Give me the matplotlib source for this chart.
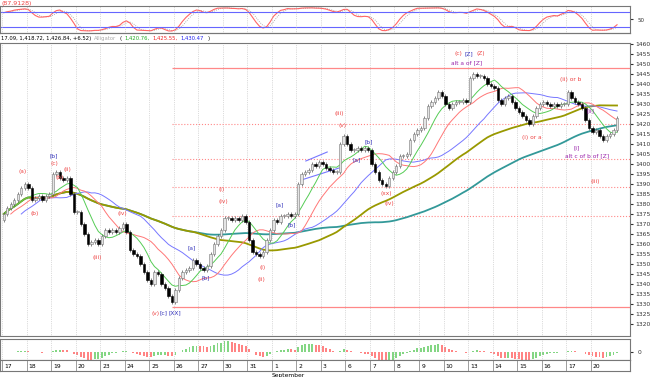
import matplotlib
matplotlib.use("Agg")
import matplotlib.pyplot as plt
import numpy as np
import pandas as pd

W, H = 650, 377

# --- data -------------------------------------------------------------
day_labels = ["17", "18", "19", "20", "23", "24", "25", "26", "27", "30", "31",
              "1", "2", "3", "6", "7", "8", "9", "10", "13", "14", "15", "16", "17", "20"]
bars_per_day = 7

close = [
    1375, 1378, 1380, 1382, 1385, 1388, 1390,   # 17
    1388, 1382, 1383, 1384, 1382, 1384, 1385,   # 18
    1395, 1396, 1393, 1392, 1393, 1385, 1376,   # 19
    1376, 1370, 1365, 1360, 1361, 1362, 1360,   # 20
    1364, 1367, 1366, 1367, 1366, 1368, 1370,   # 23
    1366, 1357, 1355, 1354, 1350, 1346, 1342,   # 24
    1340, 1346, 1345, 1340, 1338, 1334, 1331,   # 25
    1337, 1343, 1346, 1347, 1348, 1352, 1350,   # 26
    1348, 1347, 1349, 1355, 1360, 1364, 1367,   # 27
    1373, 1373, 1372, 1373, 1372, 1374, 1371,   # 30
    1362, 1356, 1355, 1354, 1356, 1362, 1367,   # 31
    1372, 1371, 1374, 1374, 1375, 1374, 1375,   # 1
    1390, 1395, 1396, 1397, 1400, 1399, 1401,   # 2
    1400, 1398, 1397, 1396, 1396, 1410, 1414,   # 3
    1410, 1407, 1407, 1408, 1407, 1408, 1407,   # 6
    1400, 1396, 1392, 1390, 1389, 1393, 1396,   # 7
    1399, 1404, 1404, 1405, 1412, 1415, 1417,   # 8
    1418, 1423, 1429, 1431, 1433, 1436, 1434,   # 9
    1430, 1428, 1430, 1431, 1431, 1432, 1431,   # 10
    1443, 1445, 1444, 1444, 1443, 1440, 1439,   # 13
    1438, 1432, 1430, 1433, 1434, 1431, 1428,   # 14
    1426, 1424, 1422, 1420, 1424, 1428, 1430,   # 15
    1431, 1430, 1429, 1430, 1429, 1430, 1430,   # 16
    1436, 1433, 1431, 1430, 1428, 1422, 1418,   # 17
    1416, 1417, 1414, 1412, 1414, 1415, 1417, 1423,  # 20
]
first_open = 1372

# moving averages: (period, shift, colour, width)
mas = [
    (89, 0, "#339999", 1.3),
    (55, 0, "#999900", 1.3),
    (21, 5, "#7777ff", 0.7),
    (13, 2, "#ff7777", 0.7),
    (8, 0, "#55cc55", 0.7),
]

solid_levels = [1448, 1328.5]
dotted_levels = [1420, 1402.5, 1388.5, 1374]
level_start = 48

channel = [((86.2, 92.3), (1401.5, 1406)), ((84.9, 95.7), (1392, 1398))]

header = [
    ("17.09, 1,418.72, 1,426.84, +6.52)", "black"),
    ("Alligator", "#aaaaaa"),
    ("(", "black"),
    ("1,420.76,", "#22aa22"),
    ("1,425.55,", "#ee2222"),
    ("1,430.47", "#2222ee"),
    (")", "black"),
]

red, blue, purple = "#ee4444", "#3333bb", "#9922aa"
wave_labels = [
    ("(a)", 5.5, 1396, red), ("[b]", 14.3, 1404, blue), ("(c)", 14.6, 1400, red),
    ("(b)", 15.9, 1393.5, red), ("(ii)", 18.3, 1397.5, red), ("(b)", 8.9, 1375, red),
    ("(iii)", 26.8, 1353.5, red), ("(iv)", 33.9, 1375, red), ("(v)", 43.3, 1325.5, red),
    ("[c]", 45.6, 1325.5, blue), ("[XX]", 48.9, 1325.5, blue), ("[a]", 53.6, 1358, blue),
    ("[b]", 57.6, 1343, blue), ("(i)", 62.1, 1387, red), ("(iv)", 62.7, 1381.5, red),
    ("(i)", 73.8, 1348, red), ("(ii)", 73.5, 1342, red), ("[a]", 78.6, 1379.5, blue),
    ("[b]", 82.3, 1369.5, blue), ("(iii)", 95.7, 1425, red), ("(v)", 96.8, 1419.5, red),
    ("[b]", 104.2, 1411, blue), ("[a]", 100.8, 1402, blue), ("(xx)", 109.3, 1385.5, red),
    ("(iv)", 109.9, 1380.5, red), ("(c)", 129.8, 1455, red), ("[Z]", 132.7, 1455, blue),
    ("(Z)", 136.1, 1455, red), ("alt a of [Z]", 132.1, 1450.5, purple),
    ("(ii) or b", 161.7, 1442, red), ("(i) or a", 150.6, 1413, red),
    ("[ii]", 167.3, 1426.5, purple), ("[i]", 163.4, 1408, purple),
    ("alt c of b of [Z]", 166.5, 1404, purple), ("(iii)", 168.8, 1391.5, red),
]

# --- derived series ---------------------------------------------------
c = pd.Series(close, dtype=float)
o = c.shift(1).fillna(first_open)
wick = 1.2
hi = np.maximum(o, c) + wick
lo = np.minimum(o, c) - wick
idx = np.arange(len(c))

k_raw = 100 * (c - lo.rolling(14, min_periods=1).min()) / (
    hi.rolling(14, min_periods=1).max() - lo.rolling(14, min_periods=1).min())
k_line = k_raw.rolling(3, min_periods=1).mean()
d_line = k_line.rolling(3, min_periods=1).mean()

macd = c.ewm(span=12).mean() - c.ewm(span=26).mean()
hist = macd - macd.ewm(span=9).mean()


def box(x0, y0, x1, y1):
    return [x0 / W, 1 - y1 / H, (x1 - x0) / W, (y1 - y0) / H]


def frame(ax):
    for s in ax.spines.values():
        s.set_color("#777777")
        s.set_linewidth(0.8)


XL = (-1.07, 178.7)
bounds = [bars_per_day * k - 0.5 for k in range(len(day_labels))]

fig = plt.figure(figsize=(W / 100, H / 100), dpi=100)
fig.patch.set_facecolor("white")

# --- oscillator panel -------------------------------------------------
ax0 = fig.add_axes(box(0, 6, 630, 33))
ax0.plot(idx, d_line, color="#999999", lw=0.6, ls=":")
ax0.plot(idx, k_line, color="#ff6666", lw=0.8)
for lv in (80, 20):
    ax0.axhline(lv, color="#6666ff", lw=0.8)
for b in bounds:
    ax0.axvline(b, color="#bbbbbb", lw=0.5, ls=":")
ax0.set_xlim(XL)
ax0.set_ylim(-5, 105)
ax0.set_xticks([])
ax0.yaxis.tick_right()
ax0.set_yticks([50])
ax0.tick_params(axis="y", labelsize=4, length=2, colors="#333333")
frame(ax0)
fig.text(1 / W, 1 - 4 / H, "(87.9128)", color=red, fontsize=4.5, va="center")

# --- main price panel -------------------------------------------------
ax = fig.add_axes(box(0, 43, 630, 336))
for b in bounds:
    ax.axvline(b, color="#bbbbbb", lw=0.5, ls=":", zorder=0)
for lv in solid_levels:
    ax.hlines(lv, level_start, XL[1], color="#ff8888", lw=0.9, zorder=1)
for lv in dotted_levels:
    ax.hlines(lv, level_start, XL[1], color="#ff8888", lw=0.8, ls=":", zorder=1)
for xs, ys in channel:
    ax.plot(xs, ys, color="#7777ff", lw=0.8, zorder=2)
for n, sh, col, lw in mas:
    m = c.rolling(n, min_periods=1).mean().shift(sh)
    ax.plot(idx, m, color=col, lw=lw, zorder=2)

up = (c >= o).values
ax.vlines(idx, lo, hi, color="#555555", lw=0.5, zorder=3)
body_bottom = np.minimum(o, c)
body_h = np.maximum(np.abs(c - o), 0.4)
ax.bar(idx[up], body_h[up], bottom=body_bottom[up], width=0.7,
       facecolor="#e4e4e4", edgecolor="#777777", lw=0.4, zorder=4)
ax.bar(idx[~up], body_h[~up], bottom=body_bottom[~up], width=0.7,
       facecolor="black", edgecolor="black", lw=0.4, zorder=4)

for t, x, y, col in wave_labels:
    ax.text(x, y, t, color=col, fontsize=4.2, ha="center", va="center", zorder=5)

ax.set_xlim(XL)
ax.set_ylim(1314, 1460.5)
ax.set_xticks([])
ax.yaxis.tick_right()
ax.set_yticks(range(1320, 1461, 5))
ax.tick_params(axis="y", labelsize=4.3, length=2, colors="#333333", pad=1.5)
frame(ax)

# header line, laid out piece by piece
fig.canvas.draw()
renderer = fig.canvas.get_renderer()
hx, hy = 1 / W, 1 - 38.5 / H
for txt, col in header:
    t = fig.text(hx, hy, txt, fontsize=3.8, va="center", color=col)
    bb = t.get_window_extent(renderer)
    hx += (bb.width + 3) / W
fig.add_artist(plt.Line2D([0, 630 / W], [1 - 33 / H] * 2, color="#777777", lw=0.8))

# --- histogram panel --------------------------------------------------
ax2 = fig.add_axes(box(0, 339, 630, 360))
rising = hist.diff().fillna(0).values >= 0
ax2.bar(idx[rising], hist[rising], width=0.55, color="#66cc66", alpha=0.8)
ax2.bar(idx[~rising], hist[~rising], width=0.55, color="#ff6666", alpha=0.8)
for b in bounds:
    ax2.axvline(b, color="#bbbbbb", lw=0.5, ls=":")
lim = np.abs(hist).max()
ax2.set_ylim(-0.75 * lim, 1.2 * lim)
ax2.set_xlim(XL)
ax2.set_xticks([])
ax2.yaxis.tick_right()
ax2.set_yticks([0])
ax2.tick_params(axis="y", labelsize=4.3, length=2, colors="#333333")
frame(ax2)

# --- date strip -------------------------------------------------------
ax3 = fig.add_axes(box(0, 360, 630, 371))
ax3.set_xlim(XL)
ax3.set_ylim(0, 1)
for b, lab in zip(bounds, day_labels):
    ax3.vlines(b, 0, 1, color="#777777", lw=0.5)
    ax3.text(b + 0.6, 0.45, lab, fontsize=4.3, va="center", ha="left")
ax3.set_xticks([])
ax3.set_yticks([])
frame(ax3)
fig.text((bounds[11] + 1.07) / (XL[1] - XL[0]) * 630 / W, 1 - 375 / H, "September",
         fontsize=4.3, va="center", ha="left")

fig.savefig("out.png", dpi=100)
